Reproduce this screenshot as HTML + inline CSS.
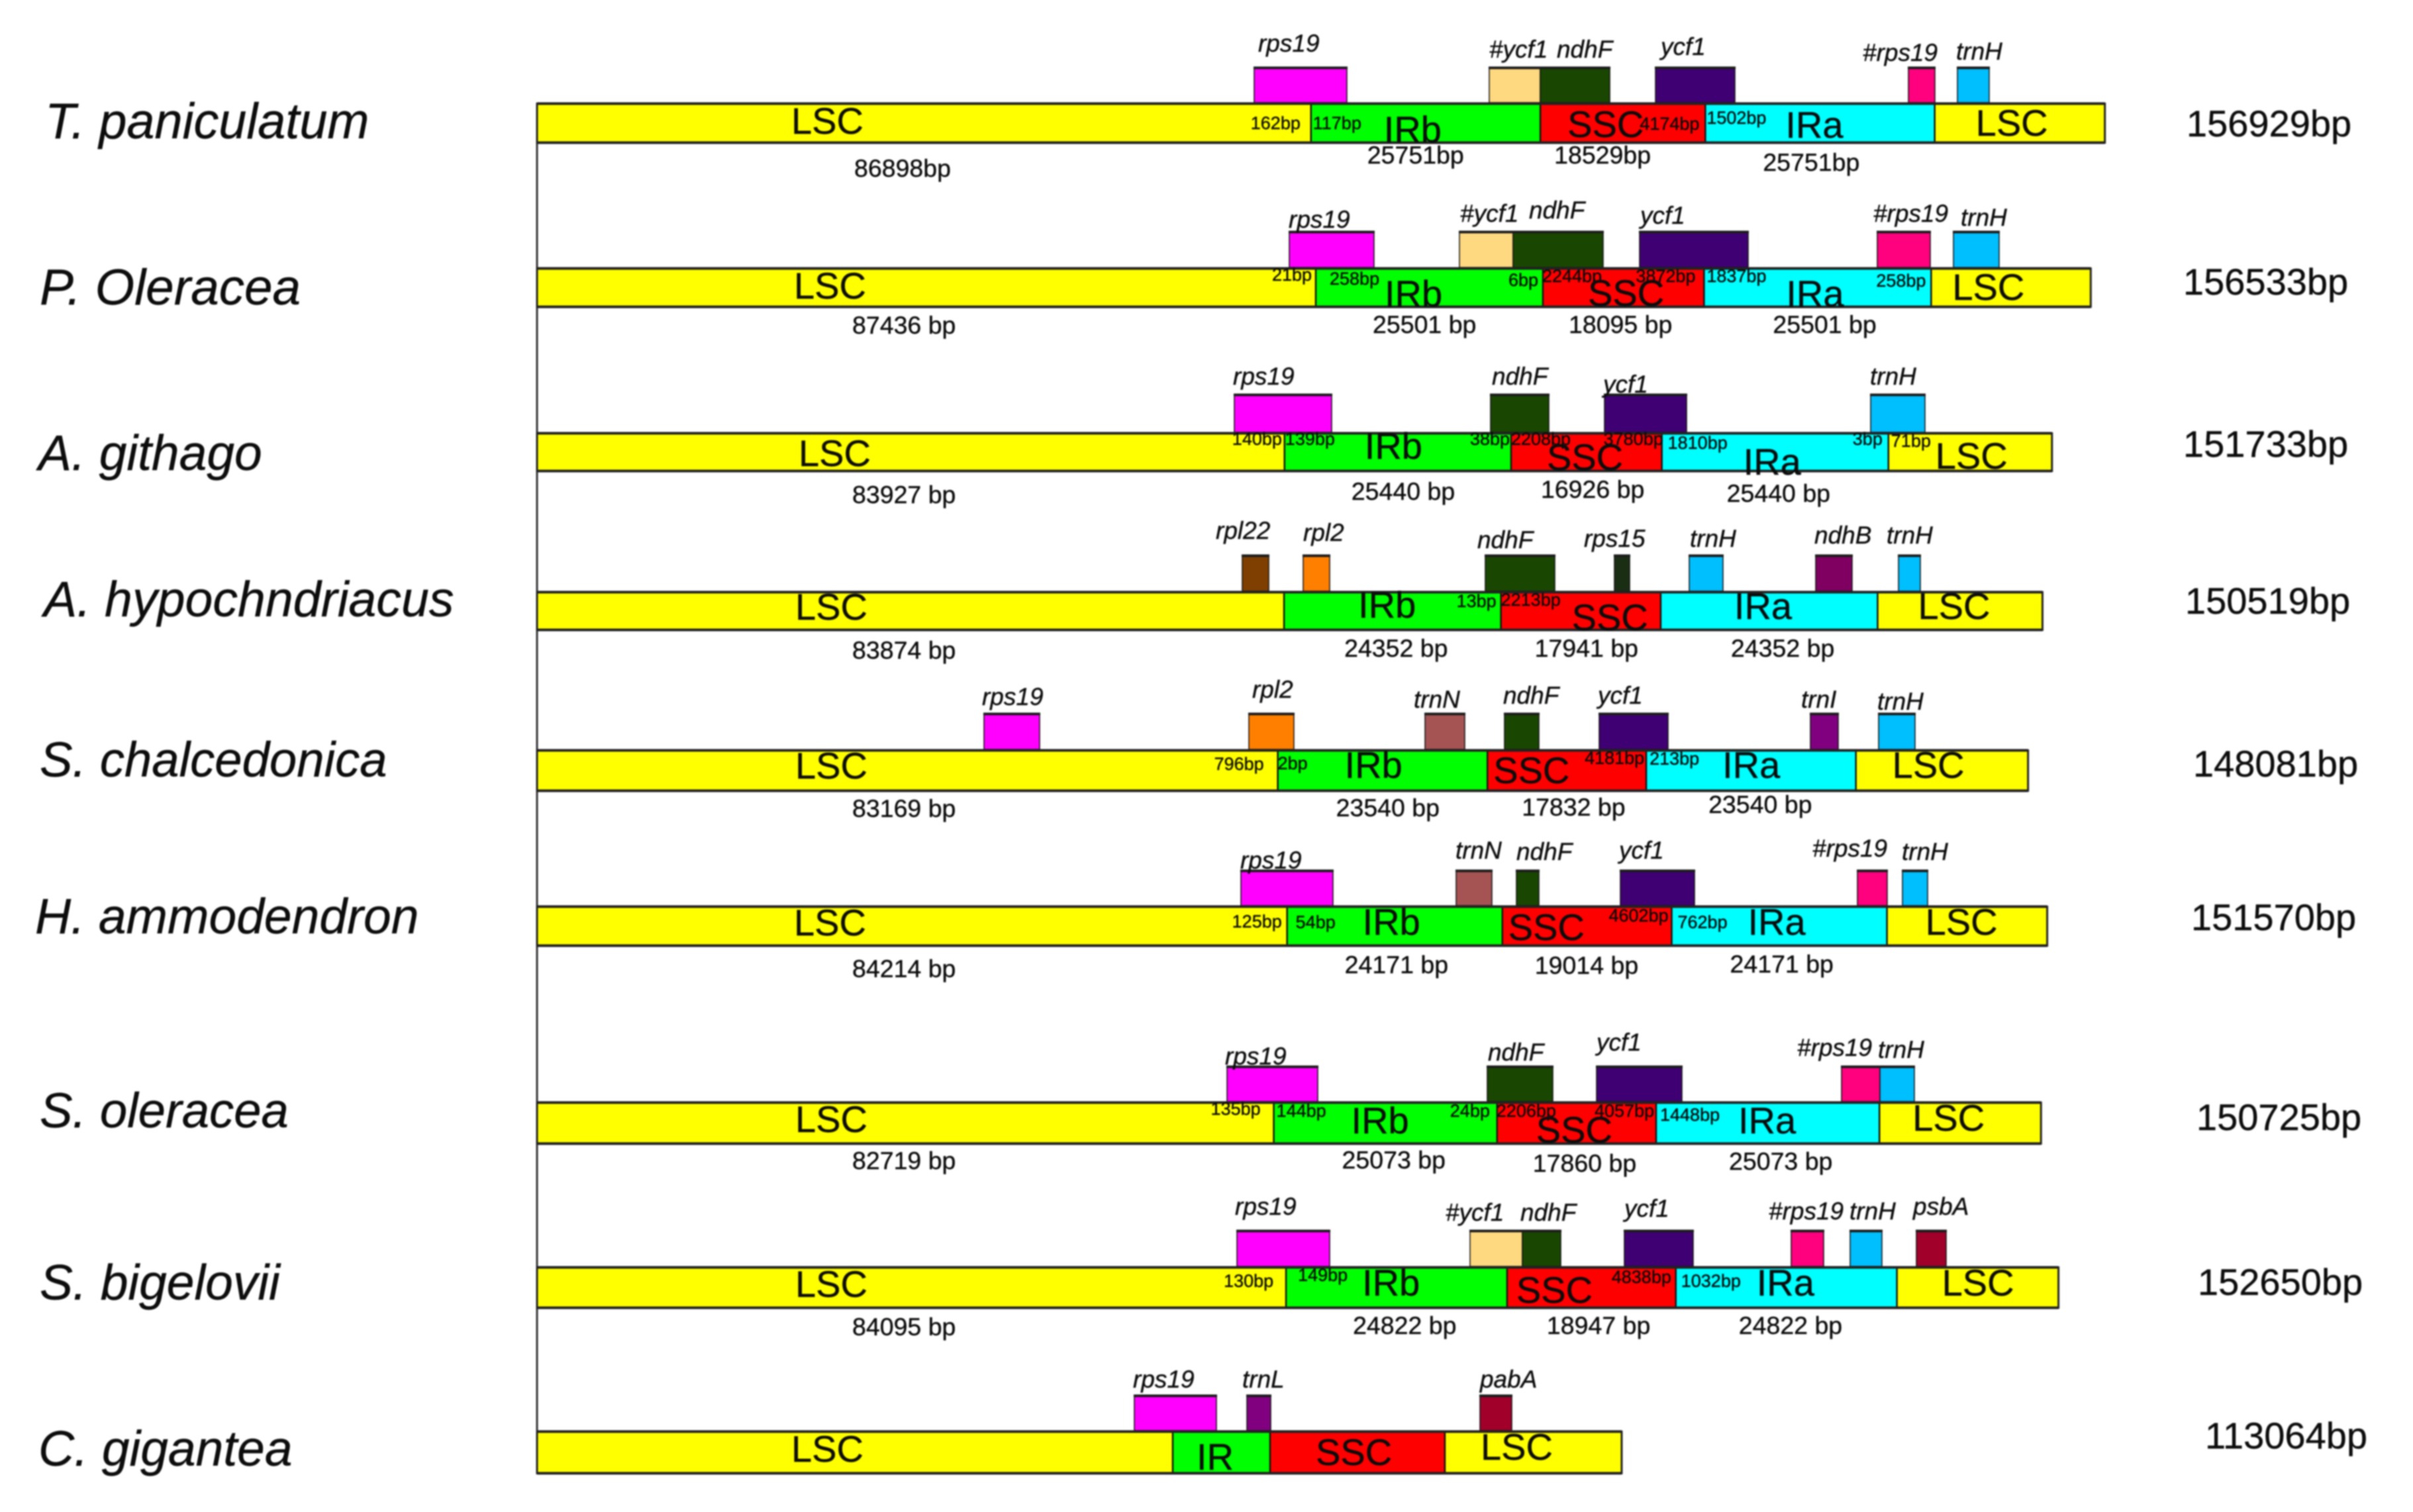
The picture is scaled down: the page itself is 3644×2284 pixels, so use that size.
<!DOCTYPE html>
<html>
<head>
<meta charset="utf-8">
<title>Chloroplast genome IR boundary comparison</title>
<style>
html,body{margin:0;padding:0;background:#fff;width:3644px;height:2284px;overflow:hidden}
svg{display:block;font-family:"Liberation Sans",Arial,sans-serif}
#plot{filter:blur(1.1px)}
</style>
</head>
<body>
<svg id="chart" xmlns="http://www.w3.org/2000/svg" width="3644" height="2284" viewBox="0 0 3644 2284">
<rect x="0" y="0" width="3644" height="2284" fill="#ffffff"/>
<g id="plot"></g>
</svg>
<script>
/* ---------- data ---------- */
const speciesNames = ['T. paniculatum','P. Oleracea','A. githago','A. hypochndriacus','S. chalcedonica','H. ammodendron','S. oleracea','S. bigelovii','C. gigantea'];
const genomeTotals = [156929,156533,151733,150519,148081,151570,150725,152650,113064];
const regionNames = [
 ['LSC','IRb','SSC','IRa','LSC'],['LSC','IRb','SSC','IRa','LSC'],['LSC','IRb','SSC','IRa','LSC'],
 ['LSC','IRb','SSC','IRa','LSC'],['LSC','IRb','SSC','IRa','LSC'],['LSC','IRb','SSC','IRa','LSC'],
 ['LSC','IRb','SSC','IRa','LSC'],['LSC','IRb','SSC','IRa','LSC'],['LSC','IR','SSC','LSC']
];
const regionBp = [
 [86898,25751,18529,25751,19108],
 [87436,25501,18095,25501,17918],
 [83927,25440,16926,25440,18364],
 [83874,24352,17941,24352,18513],
 [83169,23540,17832,23540,19331],
 [84214,24171,19014,24171,17993],
 [82719,25073,17860,25073,18141],
 [84095,24822,18947,24822,18141],
 [71376,10929,19628,19851]
];
const printedRegionCount = [4,4,4,4,4,4,4,4,0];
const printedUnit = ['bp',' bp',' bp',' bp',' bp',' bp',' bp',' bp',' bp'];
const geneNames = [
 ['rps19','#ycf1','ndhF','ycf1','#rps19','trnH'],
 ['rps19','#ycf1','ndhF','ycf1','#rps19','trnH'],
 ['rps19','ndhF','ycf1','trnH'],
 ['rpl22','rpl2','ndhF','rps15','trnH','ndhB','trnH'],
 ['rps19','rpl2','trnN','ndhF','ycf1','trnI','trnH'],
 ['rps19','trnN','ndhF','ycf1','#rps19','trnH'],
 ['rps19','ndhF','ycf1','#rps19','trnH'],
 ['rps19','#ycf1','ndhF','ycf1','#rps19','trnH','psbA'],
 ['rps19','trnL','pabA']
];
const geneStartBp = [
 [80521,106915,112640,125577,153979,159481],
 [84462,103570,109592,123793,150484,159035],
 [78291,107064,119852,149741],
 [79183,86023,106469,120967,129369,143570,152864],
 [50186,79926,99703,108625,119257,142975,150633],
 [79034,103198,109964,121637,148254,153310],
 [77473,106692,118960,146470,150782],
 [78588,104759,110633,122083,140819,147436,154872],
 [67064,79703,105874]
];
const geneEndBp = [
 [90930,112640,120447,134499,156953,163050],
 [93978,109592,119704,135986,156432,164165],
 [89220,113607,129072,155838],
 [82157,88997,114276,122678,133161,147659,155317],
 [56432,84982,104164,112492,126990,146098,154722],
 [89369,107213,112492,129964,151600,156135],
 [87659,114053,128551,150782,154648],
 [88997,110633,114945,129815,144462,151005,158217],
 [76283,82380,109443]
];
const junctionText = [
 ['162bp','117bp','4174bp','1502bp'],
 ['21bp','258bp','6bp','2244bp','3872bp','1837bp','258bp'],
 ['140bp','139bp','38bp','2208bp','3780bp','1810bp','3bp','71bp'],
 ['13bp','2213bp'],
 ['796bp','2bp','4181bp','213bp'],
 ['125bp','54bp','4602bp','762bp'],
 ['135bp','144bp','24bp','2206bp','4057bp','1448bp'],
 ['130bp','149bp','4838bp','1032bp'],
 []
];
const junctionRegion = [
 [1,1,3,3],
 [1,1,2,2,3,3,4],
 [1,1,2,2,3,3,4,4],
 [2,2],
 [1,1,3,3],
 [1,1,3,3],
 [1,1,2,2,3,3],
 [1,1,3,3],
 []
];

/* ---------- layout and style (not data) ---------- */
const bpPerPixel = 74.35;
const plotLeft = 811;
const rowTop = [155,404,653,893,1132,1368,1664,1913,2161];
const rowHeight = [62,61,60,60,64,62,65,64,66];
const boxHeight = [53,54,57,54,54,53,53,54,53];
const speciesAnchor = [[68,209],[60,460],[58,710],[66,931],[60,1173],[53,1410],[60,1703],[60,1963],[58,2214]];
const speciesFontSize = [75.7,76.5,75,75.3,74.3,75,74.3,75,75];
const totalAnchor = [[3302,206],[3297,445],[3297,690],[3300,927],[3312,1173],[3309,1405],[3317,1707],[3319,1956],[3330,2188]];
const regionFill = {LSC:'#ffff00',IRb:'#00ff00',IR:'#00ff00',SSC:'#ff0000',IRa:'#00ffff'};
const geneFill = {'rps19':'#ff00ff','#ycf1':'#ffd97f','ndhF':'#194600','ycf1':'#3f0073','#rps19':'#ff007f','trnH':'#00bfff','rpl22':'#7f3f00','rpl2':'#ff7f00','rps15':'#1a2e14','ndhB':'#7f0060','trnN':'#a65353','trnI':'#800080','trnL':'#800080','psbA':'#a0002a','pabA':'#a0002a'};
const geneLabelOffset = [
 [[6,-24],[0,-15],[25,-15],[8,-19],[-69,-10],[-2,-12]],
 [[-1,-6],[1,-15],[24,-20],[1,-12],[-6,-15],[11,-9]],
 [[-2,-15],[2,-15],[-2,-3],[-1,-15]],
 [[-40,-25],[0,-22],[-12,-11],[-46,-13],[1,-13],[-2,-18],[-18,-18]],
 [[-3,-13],[5,-24],[-17,-9],[-2,-15],[-2,-15],[-14,-9],[-2,-6]],
 [[-1,-3],[-1,-18],[0,-16],[-2,-18],[-68,-21],[-1,-16]],
 [[-3,-3],[1,-9],[0,-24],[-67,-16],[-3,-13]],
 [[-3,-24],[-37,-15],[-3,-15],[0,-21],[-34,-17],[-1,-17],[-5,-24]],
 [[-2,-12],[-7,-12],[0,-12]]
];
const regionLabelOffset = [
 [[384,47],[110,60],[41,52],[121,53],[62,50]],
 [[388,47],[104,59],[68,58],[124,59],[32,49]],
 [[395,51],[121,40],[54,57],[123,64],[71,55]],
 [[390,43],[112,40],[107,59],[111,42],[61,42]],
 [[390,44],[101,43],[9,51],[115,43],[55,43]],
 [[388,45],[114,44],[9,52],[115,44],[58,44]],
 [[390,46],[117,48],[59,62],[124,48],[50,44]],
 [[390,46],[115,44],[14,55],[122,44],[68,44]],
 [[384,47],[36,59],[69,52],[54,44]]
];
const lengthLabelOffset = [
 [[479,112],[85,92],[21,92],[87,103]],
 [[476,100],[86,99],[39,99],[104,99]],
 [[476,107],[101,102],[45,99],[98,105]],
 [[476,102],[91,99],[51,99],[106,99]],
 [[476,102],[88,101],[52,100],[94,96]],
 [[476,108],[87,102],[49,103],[88,101]],
 [[476,102],[103,101],[54,106],[110,103]],
 [[476,104],[101,102],[60,102],[95,102]],
 []
];
const junctionOffset = [
 [[-91,40],[3,40],[-99,41],[2,32]],
 [[-66,20],[21,26],[-52,28],[-1,22],[-103,22],[4,22],[-83,29]],
 [[-79,19],[1,19],[-62,19],[0,19],[-88,19],[9,25],[-54,19],[4,22]],
 [[-67,24],[0,22]],
 [[-96,31],[0,30],[-93,22],[5,23]],
 [[-83,33],[13,34],[-95,24],[9,34]],
 [[-95,20],[4,23],[-71,23],[-1,23],[-93,23],[6,29]],
 [[-94,31],[18,22],[-97,25],[8,31]],
 []
];

/* ---------- axis function ---------- */
function xScale(bp){ return plotLeft + bp / bpPerPixel; }

/* ---------- drawing ---------- */
const SVGNS = 'http://www.w3.org/2000/svg';
const plot = document.getElementById('plot');

function addRect(parent, name, x, y, w, h, fill){
  const el = document.createElementNS(SVGNS, 'rect');
  
  
  el.setAttribute('x', x);
  el.setAttribute('y', y);
  el.setAttribute('width', w);
  el.setAttribute('height', h);
  el.setAttribute('fill', fill);
  parent.appendChild(el);
  return el;
}
function addLine(parent, name, x1, y1, x2, y2, color, width){
  const el = document.createElementNS(SVGNS, 'line');
  
  
  el.setAttribute('x1', x1);
  el.setAttribute('y1', y1);
  el.setAttribute('x2', x2);
  el.setAttribute('y2', y2);
  el.setAttribute('stroke', color);
  el.setAttribute('stroke-width', width);
  parent.appendChild(el);
  return el;
}
function addText(parent, name, str, x, y, size, italic){
  const el = document.createElementNS(SVGNS, 'text');
  
  
  el.setAttribute('x', x);
  el.setAttribute('y', y);
  el.setAttribute('font-size', size);
  el.setAttribute('fill', '#0c0c0c');
  el.setAttribute('stroke', '#0c0c0c');
  el.setAttribute('stroke-width', '0.4');
  if (italic) el.setAttribute('font-style', 'italic');
  el.textContent = str;
  parent.appendChild(el);
  return el;
}

addLine(plot, 'shared-origin-line', plotLeft, rowTop[0], plotLeft, rowTop[8] + rowHeight[8], '#333333', 3);

speciesNames.forEach(function(name, r){
  const slug = name.toLowerCase().replace(/[^a-z]+/g, '-');
  const top = rowTop[r];
  const bottom = top + rowHeight[r];
  const boxTop = top - boxHeight[r];
  const group = document.createElementNS(SVGNS, 'g');
  
  
  plot.appendChild(group);

  addText(group, 'species-label', name, speciesAnchor[r][0], speciesAnchor[r][1], speciesFontSize[r], true);
  addText(group, 'genome-total', genomeTotals[r] + 'bp', totalAnchor[r][0], totalAnchor[r][1], 56, false);

  /* gene boxes */
  geneNames[r].forEach(function(gene, g){
    const x0 = xScale(geneStartBp[r][g]);
    const x1 = xScale(geneEndBp[r][g]);
    const box = addRect(group, 'gene-box', x0, boxTop, x1 - x0, boxHeight[r], geneFill[gene]);
    box.setAttribute('stroke', '#111111');
    box.setAttribute('stroke-width', '1.5');
    addLine(group, 'gene-box-top-edge', x0 - 1, boxTop + 0.5, x1 + 1, boxTop + 0.5, '#1c1c1c', 4);
    const o = geneLabelOffset[r][g];
    addText(group, 'gene-label', gene, x0 + o[0], boxTop + o[1], 37, true);
  });

  /* region segments */
  const starts = [];
  let cursor = 0;
  regionBp[r].forEach(function(bp, i){
    const x0 = xScale(cursor);
    const x1 = xScale(cursor + bp);
    starts.push(x0);
    addRect(group, 'region-segment', x0, top, x1 - x0, rowHeight[r], regionFill[regionNames[r][i]]);
    cursor += bp;
  });
  const barEnd = xScale(cursor);
  starts.slice(1).forEach(function(x){
    addLine(group, 'region-divider', x, top, x, bottom, '#111111', 2.5);
  });
  addLine(group, 'bar-top-edge', plotLeft, top + 1.5, barEnd, top + 1.5, '#222222', 4);
  addLine(group, 'bar-bottom-edge', plotLeft, bottom - 1.5, barEnd, bottom - 1.5, '#222222', 4);
  addLine(group, 'bar-left-edge', plotLeft, top, plotLeft, bottom, '#222222', 3);
  addLine(group, 'bar-right-edge', barEnd, top, barEnd, bottom, '#222222', 3);

  /* region names */
  regionNames[r].forEach(function(label, i){
    const o = regionLabelOffset[r][i];
    addText(group, 'region-label', label, starts[i] + o[0], top + o[1], 56, false);
  });

  /* printed region lengths */
  for (let i = 0; i < printedRegionCount[r]; i++){
    const o = lengthLabelOffset[r][i];
    addText(group, 'region-length', regionBp[r][i] + printedUnit[r], starts[i] + o[0], top + o[1], 37.5, false);
  }

  /* junction distances */
  junctionText[r].forEach(function(label, j){
    const o = junctionOffset[r][j];
    addText(group, 'junction-distance', label, starts[junctionRegion[r][j]] + o[0], top + o[1], 27, false);
  });
});
</script>
</body>
</html>
